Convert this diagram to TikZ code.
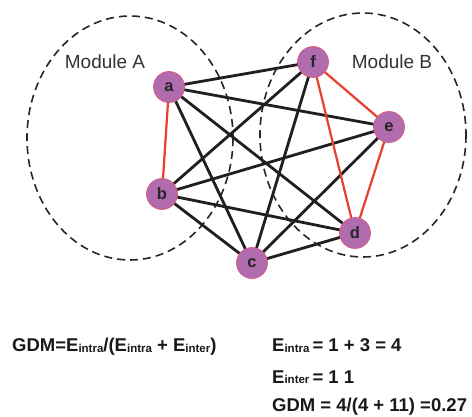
\documentclass[tikz,border=0pt]{standalone}
\usepackage{fontspec}
\setmainfont{Liberation Sans}
\begin{document}
\begin{tikzpicture}[x=1pt,y=-1pt,
  vtx/.style={circle,fill=nodefill,draw=nodeedge,line width=0.7pt,minimum size=31pt,inner sep=0pt,font=\fontsize{16.5}{16.5}\selectfont\bfseries,text=black!85},
  inter/.style={line width=2.8pt,draw=black!88},
  intra/.style={line width=2.2pt,draw=redline},
  modring/.style={line width=1.6pt,draw=black!85,dash pattern=on 8pt off 5pt},
  modlabel/.style={font=\fontsize{19}{19}\selectfont,text=black!80},
  eq/.style={font=\fontsize{18.5}{18.5}\selectfont\bfseries,anchor=base west,inner sep=0pt,text=black!90}]
\definecolor{nodefill}{HTML}{B06CAE}
\definecolor{nodeedge}{HTML}{E05A78}
\definecolor{redline}{HTML}{E8402C}
\useasboundingbox (0,0) rectangle (472,417);
\fill[white] (0,0) rectangle (472,417);
% modules
\draw[modring] (130,138) ellipse [x radius=103, y radius=122];
\draw[modring] (363,135) ellipse [x radius=103, y radius=122];
\node[modlabel] (ma) at (105,62) {Module A};
\node[modlabel] (mb) at (392,62) {Module B};
% vertices
\coordinate (pa) at (169,87);
\coordinate (pf) at (313,62);
\coordinate (pe) at (389,127);
\coordinate (pb) at (162,194);
\coordinate (pd) at (355,233);
\coordinate (pc) at (252,263);
% edges
\draw[inter] (pa) -- (pf);
\draw[inter] (pa) -- (pe);
\draw[inter] (pa) -- (pd);
\draw[inter] (pa) -- (pc);
\draw[inter] (pb) -- (pf);
\draw[inter] (pb) -- (pe);
\draw[inter] (pb) -- (pd);
\draw[inter] (pb) -- (pc);
\draw[inter] (pc) -- (pf);
\draw[inter] (pc) -- (pe);
\draw[inter] (pc) -- (pd);
\draw[intra] (pa) -- (pb);
\draw[intra] (pf) -- (pe);
\draw[intra] (pf) -- (pd);
\draw[intra] (pe) -- (pd);
\node[vtx] (a) at (pa) {a};
\node[vtx] (f) at (pf) {f};
\node[vtx] (e) at (pe) {e};
\node[vtx] (b) at (pb) {b};
\node[vtx] (d) at (pd) {d};
\node[vtx] (c) at (pc) {c};
% equations
\newcommand{\sbx}[1]{\raisebox{-1pt}{\fontsize{11.5}{11.5}\selectfont #1}}
\node[eq] (g1) at (12,352) {GDM=E\sbx{intra}/(E\sbx{intra} + E\sbx{inter})};
\node[eq] (g2) at (272,352) {E\sbx{intra}\,= 1 + 3 = 4};
\node[eq] (g3) at (272,383) {E\sbx{inter}\,= 1 1};
\node[eq] (g4) at (272,411) {GDM = 4/(4 + 11) =0.27};
\end{tikzpicture}
\end{document}
